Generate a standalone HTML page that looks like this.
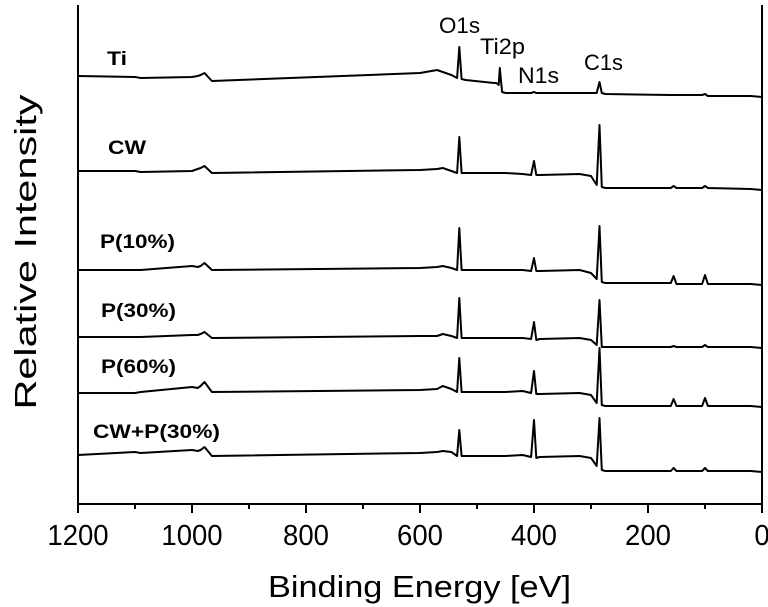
<!DOCTYPE html>
<html><head><meta charset="utf-8"><style>
html,body{margin:0;padding:0;background:#fff;}
svg{display:block;font-family:"Liberation Sans",Arial,sans-serif;}
</style></head><body>
<svg id="chart" width="768" height="607" viewBox="0 0 768 607">
<g id="plot"></g>
</svg>
<script>
const energies=[1200,1100,1090,1000,990,985,978,965,600,570,560,545,535,531,527,520,470,466,462,460,456,450,420,405,400,396,390,320,300,290,285,281,275,160,155,150,105,100,95,20,0];
const seriesNames=["Ti","CW","P(10%)","P(30%)","P(60%)","CW+P(30%)"];
// intensities (arbitrary units, larger = higher)
const tiValues=[428,427,426,427,428,429,431,423,431,434,432,429,426,457,425,424,421,421,419,436,412,411,411,411,412,411,411,411,411,411,422,411,410,409,409,409,409,410,408,408,407];
const cwValues=[333,333,332,333,335,336,338,331,334,335,336,333,331,367,331,331,331,331,331,331,331,331,330,329,343,329,329,330,328,319,379,317,316,316,318,316,316,318,316,315,314];
const p10Values=[234,234,234,238,237,238,241,234,236,237,238,236,234,276,234,234,234,234,234,234,234,234,234,233,246,233,233,234,231,225,278,222,221,221,228,220,220,229,220,220,219];
const p30Values=[167,167,167,169,169,170,172,166,168,168,170,168,166,206,166,166,166,166,166,166,166,166,166,165,182,164,165,166,164,159,204,157,157,157,158,157,157,159,157,157,156];
const p60Values=[111,111,112,117,116,118,122,112,114,115,118,115,112,146,112,112,112,112,112,112,112,112,113,111,133,110,110,111,109,101,156,99,98,98,105,98,98,106,98,98,97];
const cwpValues=[49,52,51,54,53,54,57,48,51,52,53,52,48,74,48,48,48,48,48,48,48,48,49,47,84,46,47,48,46,38,86,34,33,33,36,33,33,36,33,33,32];
const xTicks=[1200,1000,800,600,400,200,0];
const minorTicks=[1100,900,700,500,300,100];
const peakLabels=["O1s","Ti2p","N1s","C1s"];

const X0=78,X1=762,YB=504,YT=5;
function xScale(e){return X0+(1200-e)*(X1-X0)/1200;}
function yScale(v){return YB-v;}
const NS="http://www.w3.org/2000/svg";
const plot=document.getElementById('plot');
function mk(tag,attrs){const el=document.createElementNS(NS,tag);for(const k in attrs)el.setAttribute(k,attrs[k]);plot.appendChild(el);return el;}

let ax=mk('path',{d:`M${X0},${YT}V${YB}H${X1}V${YT}`,fill:'none',stroke:'#000','stroke-width':2});


xTicks.forEach(t=>{
  const x=xScale(t);
  const l=mk('line',{x1:x,x2:x,y1:YB,y2:YB+9,stroke:'#000','stroke-width':2});
  
  
  const s=String(t);
  const w=s.length*15.3;
  const tx=mk('text',{x:x,y:545,'text-anchor':'middle','font-size':29,textLength:w,lengthAdjust:'spacingAndGlyphs'});
  tx.textContent=s;
  
  
});
minorTicks.forEach(t=>{
  const x=xScale(t);
  const l=mk('line',{x1:x,x2:x,y1:YB,y2:YB+5,stroke:'#000','stroke-width':2});
  
  
});
const xt=mk('text',{x:268,y:597,'font-size':31,textLength:303,lengthAdjust:'spacingAndGlyphs'});
xt.textContent='Binding Energy [eV]';


const yt=mk('text',{x:0,y:0,'text-anchor':'middle','font-size':31,textLength:315,lengthAdjust:'spacingAndGlyphs',transform:'translate(36,252) rotate(-90)'});
yt.textContent='Relative Intensity';



const allSeries=[tiValues,cwValues,p10Values,p30Values,p60Values,cwpValues];
const labelPos=[[107,65,20],[108,154,38],[100,248,75],[101,317,75],[101,373,75],[93,438,127]];
allSeries.forEach((vals,i)=>{
  let d='';
  energies.forEach((e,j)=>{d+=(j?'L':'M')+xScale(e).toFixed(1)+','+yScale(vals[j]).toFixed(1);});
  const p=mk('path',{d:d,fill:'none',stroke:'#000','stroke-width':2,'stroke-linejoin':'round'});
  
  
  const t=mk('text',{x:labelPos[i][0],y:labelPos[i][1],'font-size':19,'font-weight':'bold',textLength:labelPos[i][2],lengthAdjust:'spacingAndGlyphs'});
  t.textContent=seriesNames[i];
  
  
});
const peakPos=[[439,33,41],[480,54,45],[518,83,41],[584,70,39]];
peakLabels.forEach((s,i)=>{
  const t=mk('text',{x:peakPos[i][0],y:peakPos[i][1],'font-size':22,textLength:peakPos[i][2],lengthAdjust:'spacingAndGlyphs'});
  t.textContent=s;
  
  
});
</script>
</body></html>
